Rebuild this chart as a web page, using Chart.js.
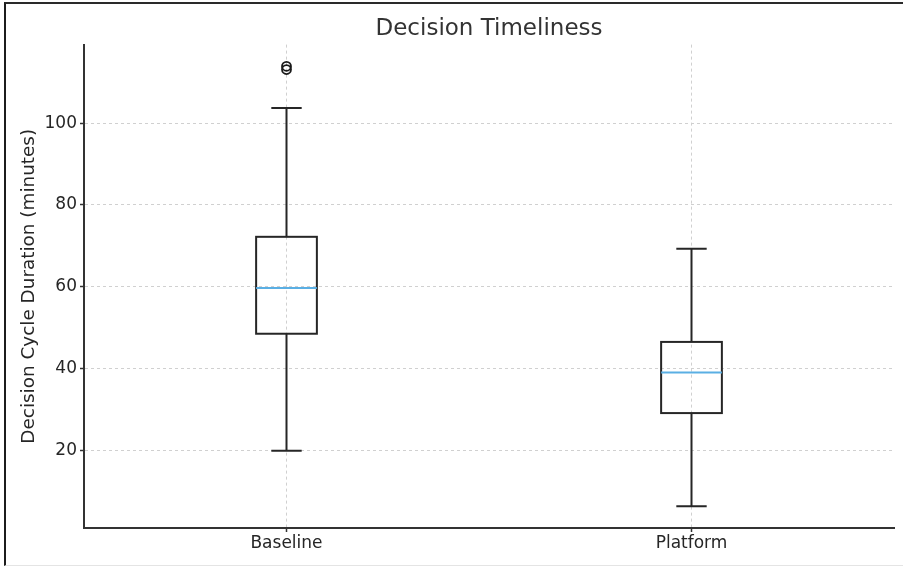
<!DOCTYPE html>
<html>
<head>
<meta charset="utf-8">
<script src="https://cdn.jsdelivr.net/npm/chart.js@4/dist/chart.umd.min.js"></script>
<style>
  html, body { margin: 0; padding: 0; background: #ffffff; }
  #wrap { position: relative; width: 903px; height: 567px; overflow: hidden; }
  #frame {
    position: absolute; left: 4px; top: 2px; right: -4px; bottom: 1px;
    border-left: 2px solid #1c1c1c; border-top: 2px solid #2a2a2a;
    border-bottom: 1px solid #e4e4e4; pointer-events: none;
  }
  canvas { position: absolute; left: 0; top: 0; }
</style>
</head>
<body>
<div id="wrap">
  <canvas id="chart" width="903" height="567"></canvas>
  <div id="frame"></div>
</div>
<script>
// Decision cycle durations (minutes) per group: five-number summary + outliers
const categories   = ['Baseline', 'Platform'];
const whiskerLow   = [19.9, 6.3];
const quartile1    = [48.5, 29.1];
const medianValue  = [59.7, 39.0];
const quartile3    = [72.2, 46.5];
const whiskerHigh  = [103.7, 69.3];
const outlierValues = [[113.9, 113.1], []];
const yTickValues  = [20, 40, 60, 80, 100];

// box geometry in x-axis units (categories sit at 1, 2, ...)
const BOX_HALF = 0.075;
const CAP_HALF = 0.0375;

const FONT = 'DejaVu Sans';

const outlierPoints = [];
outlierValues.forEach((vals, i) => vals.forEach(v => outlierPoints.push({ x: i + 1, y: v })));

const boxPlotPlugin = {
  id: 'boxPlot',
  beforeDatasetsDraw(chart) {
    const { ctx, scales: { x, y } } = chart;
    ctx.save();
    ctx.lineCap = 'butt';
    categories.forEach((c, i) => {
      const pos = i + 1;
      const xc = x.getPixelForValue(pos);
      const xl = x.getPixelForValue(pos - BOX_HALF);
      const xr = x.getPixelForValue(pos + BOX_HALF);
      const cl = x.getPixelForValue(pos - CAP_HALF);
      const cr = x.getPixelForValue(pos + CAP_HALF);
      const yLo = y.getPixelForValue(whiskerLow[i]);
      const yQ1 = y.getPixelForValue(quartile1[i]);
      const yMd = y.getPixelForValue(medianValue[i]);
      const yQ3 = y.getPixelForValue(quartile3[i]);
      const yHi = y.getPixelForValue(whiskerHigh[i]);

      ctx.strokeStyle = '#262626';
      ctx.lineWidth = 2;
      // box
      ctx.strokeRect(xl, yQ3, xr - xl, yQ1 - yQ3);
      // whiskers
      ctx.beginPath();
      ctx.moveTo(xc, yQ1); ctx.lineTo(xc, yLo);
      ctx.moveTo(xc, yQ3); ctx.lineTo(xc, yHi);
      // caps
      ctx.moveTo(cl, yLo); ctx.lineTo(cr, yLo);
      ctx.moveTo(cl, yHi); ctx.lineTo(cr, yHi);
      ctx.stroke();
      // median
      ctx.strokeStyle = '#5aafe4';
      ctx.lineWidth = 2;
      ctx.beginPath();
      ctx.moveTo(xl, yMd); ctx.lineTo(xr, yMd);
      ctx.stroke();
    });
    ctx.restore();
  }
};

new Chart(document.getElementById('chart'), {
  type: 'scatter',
  data: {
    datasets: [{
      label: 'Outliers',
      data: outlierPoints,
      pointStyle: 'circle',
      pointRadius: 4.5,
      borderColor: '#1a1a1a',
      backgroundColor: 'rgba(0,0,0,0)',
      borderWidth: 1.8
    }]
  },
  options: {
    responsive: false,
    animation: false,
    devicePixelRatio: 1,
    layout: { padding: { left: 0, right: 9, top: 0, bottom: 0 } },
    plugins: {
      legend: { display: false },
      tooltip: { enabled: false },
      title: {
        display: true,
        text: 'Decision Timeliness',
        fullSize: false,
        color: '#333333',
        font: { family: FONT, size: 23, weight: 'normal', lineHeight: 1.2 },
        padding: { top: 15, bottom: 2 }
      }
    },
    scales: {
      x: {
        type: 'linear',
        min: 0.5,
        max: 2.5,
        afterBuildTicks(scale) { scale.ticks = categories.map((c, i) => ({ value: i + 1 })); },
        afterFit(scale) { scale.height = 39; },
        ticks: {
          callback: (v) => categories[Math.round(v) - 1],
          color: '#262626',
          font: { family: FONT, size: 17 },
          padding: 1,
          maxRotation: 0
        },
        grid: {
          color: '#d0d0d0',
          lineWidth: 1,
          tickColor: '#333333',
          tickLength: 4,
          tickWidth: 1.5,
          tickBorderDash: []
        },
        border: { display: true, color: '#333333', width: 2, dash: [3, 3] }
      },
      y: {
        type: 'linear',
        min: 1.0,
        max: 119.2,
        afterBuildTicks(scale) { scale.ticks = yTickValues.map(v => ({ value: v })); },
        afterFit(scale) { scale.width = 84; },
        ticks: {
          color: '#262626',
          font: { family: FONT, size: 17 },
          padding: 3
        },
        grid: {
          color: '#d0d0d0',
          lineWidth: 1,
          tickColor: '#333333',
          tickLength: 4,
          tickWidth: 1.5,
          tickBorderDash: []
        },
        border: { display: true, color: '#333333', width: 2, dash: [3, 3] },
        title: {
          display: true,
          text: 'Decision Cycle Duration (minutes)',
          color: '#262626',
          font: { family: FONT, size: 18.4, lineHeight: 1.2 },
          padding: { top: 18, bottom: 0 }
        }
      }
    }
  },
  plugins: [boxPlotPlugin]
});
</script>
</body>
</html>
